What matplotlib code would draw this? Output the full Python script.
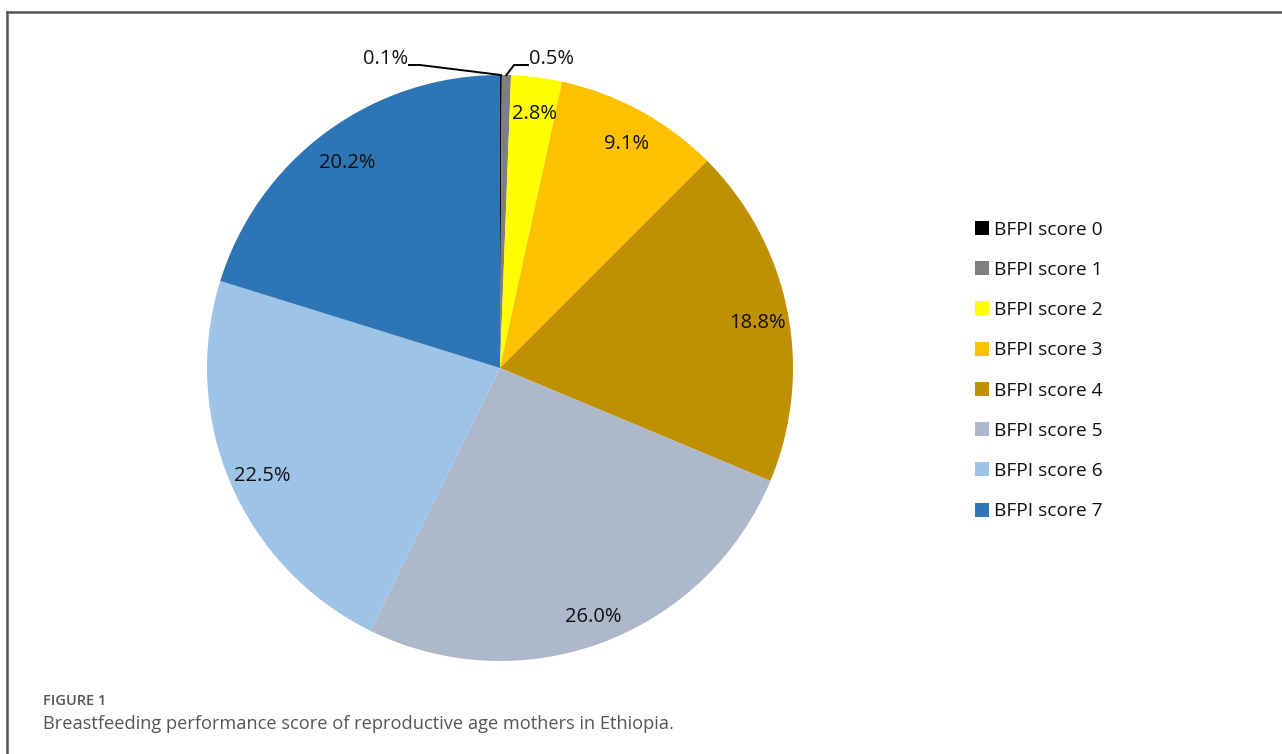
import matplotlib
matplotlib.use("Agg")
import matplotlib.pyplot as plt
from matplotlib.lines import Line2D
from matplotlib.patches import Patch
import numpy as np

categories = ["BFPI score 0", "BFPI score 1", "BFPI score 2", "BFPI score 3",
              "BFPI score 4", "BFPI score 5", "BFPI score 6", "BFPI score 7"]
values = [0.1, 0.5, 2.8, 9.1, 18.8, 26.0, 22.5, 20.2]
colors = ["#000000", "#7F7F7F", "#FFFF00", "#FFC000", "#BF9000", "#ADB9CA", "#9DC3E6", "#2E75B6"]
caption_label = "FIGURE 1"
caption_text = "Breastfeeding performance score of reproductive age mothers in Ethiopia."

plt.rcParams['font.family'] = ['Open Sans', 'DejaVu Sans']

W, H = 1282, 754
fig = plt.figure(figsize=(W / 100, H / 100), dpi=100)

# pie axes: center (500,368), radius 293 px
cx, cy, r = 500, 368, 293
ax = fig.add_axes([(cx - r) / W, (H - cy - r) / H, 2 * r / W, 2 * r / H])

FS = 14.5
labels_txt = [f"{v:.1f}%" for v in values]
wedges, texts = ax.pie(values, colors=colors, startangle=90, counterclock=False,
                       labels=[("" if v < 1 else t) for v, t in zip(values, labels_txt)],
                       labeldistance=0.89, radius=1.0,
                       textprops=dict(fontsize=FS, color="#111111", ha="center", va="center"))
for t in texts:
    x, y = t.get_position()
    t.set_position((x + 1.5 / r, y - 5 / r))
ax.set_xlim(-1, 1)
ax.set_ylim(-1, 1)
ax.set_aspect("equal")
ax.axis("off")

# outside labels for small slices with leader lines
total = sum(values)
start = 90.0
angles = []
for v in values:
    span = v / total * 360
    mid = start - span / 2
    angles.append(mid)
    start -= span

def px2data(x, y):
    return (x - cx) / r, (cy - y) / r

# 0.1% slice
a0 = np.deg2rad(angles[0])
p0 = (np.cos(a0) * 1.0, np.sin(a0) * 1.0)
k1 = px2data(420, 65)
k1b = px2data(409, 65)
ax.plot([p0[0], k1[0], k1b[0]], [p0[1], k1[1], k1b[1]], color="black", lw=1.4, clip_on=False)
tp = px2data(386, 59)
ax.text(tp[0], tp[1], labels_txt[0], fontsize=FS, ha="center", va="center", color="#111111")

# 0.5% slice
a1 = np.deg2rad(angles[1])
p1 = (np.cos(a1) * 1.0, np.sin(a1) * 1.0)
k2 = px2data(514, 65)
k2b = px2data(528, 65)
ax.plot([p1[0], k2[0], k2b[0]], [p1[1], k2[1], k2b[1]], color="black", lw=1.4, clip_on=False)
tp = px2data(551, 59)
ax.text(tp[0], tp[1], labels_txt[1], fontsize=FS, ha="center", va="center", color="#111111")

# legend
handles = [Patch(facecolor=c, edgecolor="none", label=l) for c, l in zip(colors, categories)]
leg = fig.legend(handles=handles, loc="upper left", bbox_to_anchor=(967 / W, 1 - 213 / H),
                 frameon=False, fontsize=13.8, handlelength=0.75, handleheight=0.75,
                 handletextpad=0.25, labelspacing=1.16, borderaxespad=0)
for t in leg.get_texts():
    t.set_color("#111111")

# border lines
fig.add_artist(Line2D([7 / W, 1.0], [1 - 12 / H, 1 - 12 / H], color="#555555", lw=1.8,
                      transform=fig.transFigure))
fig.add_artist(Line2D([7 / W, 7 / W], [1 - 12 / H, 0], color="#555555", lw=1.8,
                      transform=fig.transFigure))

# caption
fig.text(43 / W, 1 - 701 / H, caption_label, fontsize=10.5, color="#555555",
         ha="left", va="center", fontweight="semibold")
fig.text(43 / W, 1 - 724 / H, caption_text, fontsize=13.15, color="#555555",
         ha="left", va="center")

fig.savefig("out.png", dpi=100)
